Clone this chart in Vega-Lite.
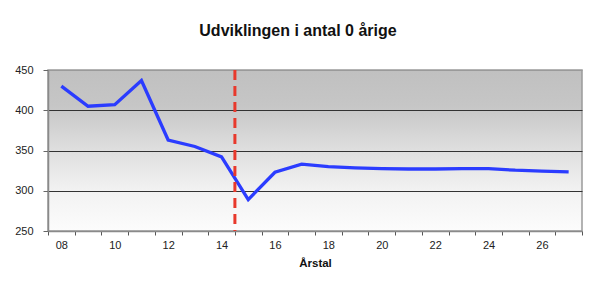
{
  "$schema": "https://vega.github.io/schema/vega-lite/v6.json",
  "width": 534,
  "height": 161,
  "autosize": {"type": "none"},
  "padding": {"left": 48, "top": 70, "right": 7, "bottom": 55},
  "background": "white",
  "title": {
    "text": "Udviklingen i antal 0 årige",
    "font": "Liberation Sans",
    "fontSize": 16,
    "fontWeight": "bold",
    "color": "#111",
    "anchor": "middle",
    "dx": -17,
    "baseline": "alphabetic",
    "offset": 12
  },
  "config": {
    "font": "Liberation Sans",
    "view": {
      "stroke": "#9a9a9a",
      "strokeWidth": 1.5,
      "fill": {
        "gradient": "linear",
        "x1": 0, "y1": 0, "x2": 0, "y2": 1,
        "stops": [
          {"offset": 0, "color": "#c0c0c0"},
          {"offset": 0.22, "color": "#c6c6c6"},
          {"offset": 0.5, "color": "#dfdfdf"},
          {"offset": 0.75, "color": "#f2f2f2"},
          {"offset": 1, "color": "#fcfcfc"}
        ]
      }
    }
  },
  "layer": [
    {
      "data": {
        "values": [
          {"aar": "08", "antal": 430},
          {"aar": "09", "antal": 405},
          {"aar": "10", "antal": 407},
          {"aar": "11", "antal": 437},
          {"aar": "12", "antal": 363},
          {"aar": "13", "antal": 355},
          {"aar": "14", "antal": 342},
          {"aar": "15", "antal": 289},
          {"aar": "16", "antal": 323},
          {"aar": "17", "antal": 333},
          {"aar": "18", "antal": 330},
          {"aar": "19", "antal": 328.5},
          {"aar": "20", "antal": 327.5},
          {"aar": "21", "antal": 327},
          {"aar": "22", "antal": 327},
          {"aar": "23", "antal": 327.5},
          {"aar": "24", "antal": 327.5},
          {"aar": "25", "antal": 325.5},
          {"aar": "26", "antal": 324.5},
          {"aar": "27", "antal": 323.5}
        ]
      },
      "mark": {"type": "line", "color": "#2b3cff", "strokeWidth": 3.3, "strokeJoin": "miter"},
      "encoding": {
        "x": {
          "field": "aar",
          "type": "ordinal",
          "bandPosition": 0.5,
          "scale": {"type": "band", "paddingInner": 0, "paddingOuter": 0},
          "axis": {
            "labelExpr": "parseInt(datum.value, 10) % 2 == 0 ? datum.label : ''",
            "labelAngle": 0,
            "labelOverlap": false,
            "grid": false,
            "tickBand": "extent",
            "tickSize": 4,
            "tickColor": "#555",
            "domainColor": "#8a8a8a",
            "domainWidth": 1.5,
            "labelFontSize": 11,
            "labelColor": "#222",
            "labelPadding": 4,
            "title": "Årstal",
            "titleFontSize": 11.5,
            "titleFontWeight": "bold",
            "titleColor": "#111",
            "titlePadding": 7
          }
        },
        "y": {
          "field": "antal",
          "type": "quantitative",
          "scale": {"domain": [250, 450], "nice": false, "zero": false},
          "axis": {
            "values": [250, 300, 350, 400, 450],
            "grid": true,
            "gridColor": {"condition": {"test": "datum.value == 250 || datum.value == 450", "value": "#9a9a9a"}, "value": "#333333"},
            "gridWidth": 1.2,
            "tickSize": 5,
            "tickColor": "#666",
            "domainColor": "#8a8a8a",
            "domainWidth": 1.5,
            "labelFontSize": 11,
            "labelColor": "#222",
            "labelPadding": 10,
            "title": null
          }
        }
      }
    },
    {
      "data": {"values": [{"aar": "14"}]},
      "mark": {"type": "rule", "color": "#e8392c", "strokeWidth": 3, "strokeDash": [10, 6]},
      "encoding": {
        "x": {"field": "aar", "type": "ordinal", "bandPosition": 1}
      }
    }
  ]
}
